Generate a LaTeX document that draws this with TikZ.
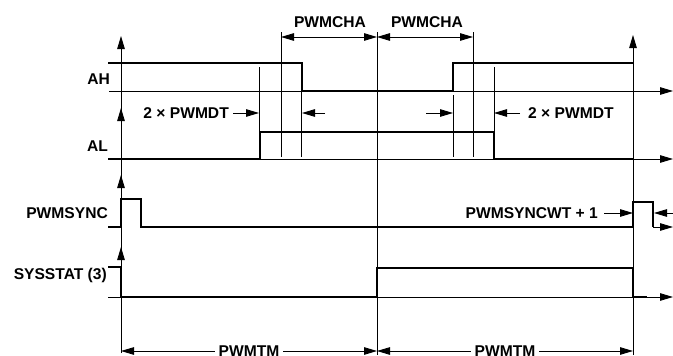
\documentclass[tikz,border=0pt]{standalone}
\usepackage{fontspec}
\setmainfont{Liberation Sans}[BoldFont=Liberation Sans Bold]
\usetikzlibrary{arrows.meta}
\begin{document}
\begin{tikzpicture}[x=1pt,y=-1pt,
  thinline/.style={line width=0.9pt},
  sig/.style={line width=2.6pt, line join=miter, line cap=butt},
  arr/.style={thinline,-{Triangle[length=13pt,width=7.5pt]}},
  darr/.style={thinline,{Triangle[length=13pt,width=7.5pt]}-{Triangle[length=13pt,width=7.5pt]}},
  lbl/.style={font=\fontsize{15.6}{18}\selectfont\bfseries, inner sep=0pt},
]
\useasboundingbox (0,0) rectangle (673,356);
% key coordinates
\coordinate (L0) at (121,353);
\coordinate (Ltop) at (121,36);
\coordinate (R0) at (633,355);
\coordinate (Rtop) at (633,35);
\coordinate (Mtop) at (377,32);
\coordinate (Mbot) at (377,355);
% axes
\draw[arr] (L0) -- (Ltop);
\draw[arr] (121,135) -- (121,108);
\draw[arr] (121,200) -- (121,175);
\draw[arr] (121,270) -- (121,247);
\draw[arr] (R0) -- (Rtop);
\draw[thinline] (Mbot) -- (Mtop);
% baselines
\draw[arr] (109,91) -- (673,91);
\draw[arr] (108,159) -- (673,159);
\draw[arr] (653,227) -- (673,227);
\draw[arr] (108,297) -- (673,297);
% guide verticals
\draw[thinline] (281,32) -- (281,157);
\draw[thinline] (473,32) -- (473,157);
\draw[thinline] (259,67) -- (259,132);
\draw[thinline] (494,67) -- (494,132);
\draw[thinline] (301,63) -- (301,157);
\draw[thinline] (453,95) -- (453,157);
% signals
\draw[sig] (108,63) -- (302,63) -- (302,91) -- (453,91) -- (453,63) -- (633,63);
\draw[sig] (108,159) -- (260,159) -- (260,132) -- (494,132) -- (494,159) -- (633,159);
\draw[sig] (108,227) -- (121,227) -- (121,199) -- (141,199) -- (141,227) -- (633,227) -- (633,202) -- (653,202) -- (653,227);
\draw[sig] (108,267) -- (121,267) -- (121,297) -- (377,297) -- (377,268) -- (633,268) -- (633,297) -- (647,297);
% signal labels
\node[lbl, anchor=east] (ah) at (110,79) {AH};
\node[lbl, anchor=east] (al) at (108,146) {AL};
\node[lbl, anchor=east] (ps) at (108,213) {PWMSYNC};
\node[lbl, anchor=east] (ss) at (107,275) {SYSSTAT (3)};
% PWMCHA
\coordinate (c1) at (281,37);
\coordinate (c2) at (377,37);
\coordinate (c3) at (473,37);
\draw[darr] (c1) -- (c2);
\draw[darr] (c2) -- (c3);
\node[lbl] (cha1) at (330,22) {PWMCHA};
\node[lbl] (cha2) at (427,22) {PWMCHA};
% 2 x PWMDT
\node[lbl, anchor=east] (dt1) at (229,113) {2 × PWMDT};
\coordinate (dt1a) at (259,113);
\draw[arr] (dt1.east) ++(4,0) -- (dt1a);
\coordinate (dt1b) at (325,113);
\coordinate (dt1c) at (302,113);
\draw[arr] (dt1b) -- (dt1c);
\coordinate (dt2a) at (426,113);
\coordinate (dt2b) at (453,113);
\draw[arr] (dt2a) -- (dt2b);
\node[lbl, anchor=west] (dt2) at (528,113) {2 × PWMDT};
\coordinate (dt2c) at (494,113);
\draw[arr] (dt2.west) ++(-8,0) -- (dt2c);
% PWMSYNCWT
\node[lbl, anchor=east] (wt) at (598,213) {PWMSYNCWT + 1};
\coordinate (wta) at (633,213);
\draw[arr] (wt.east) ++(6,0) -- (wta);
\coordinate (wtb) at (673,213);
\coordinate (wtc) at (654,213);
\draw[arr] (wtb) -- (wtc);
% PWMTM
\coordinate (t1) at (121,351);
\coordinate (t2) at (377,351);
\coordinate (t3) at (633,351);
\draw[darr] (t1) -- (t2) node[midway, lbl, fill=white, inner xsep=4pt, inner ysep=2pt] (tm1) {PWMTM};
\draw[darr] (t2) -- (t3) node[midway, lbl, fill=white, inner xsep=4pt, inner ysep=2pt] (tm2) {PWMTM};
\end{tikzpicture}
\end{document}
